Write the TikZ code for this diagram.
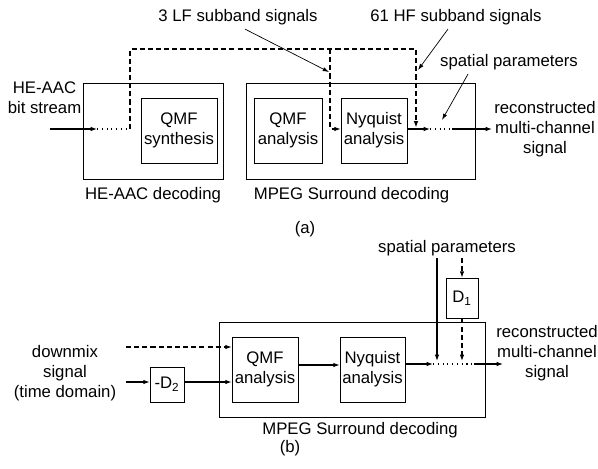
\documentclass[tikz,border=0pt]{standalone}
\usepackage{fontspec}
\setmainfont{Liberation Sans}
\usetikzlibrary{arrows.meta,positioning}

\tikzset{
  blk/.style={draw, line width=0.5pt, inner sep=0pt, align=center},
  outerbox/.style={draw, line width=0.5pt, inner sep=0pt},
  lbl/.style={align=center, inner sep=0pt},
  sig/.style={line width=0.75pt, -{Latex[length=4.5pt,width=3.2pt]}},
  dsig/.style={sig, dash pattern=on 3.6pt off 2.2pt},
  dotline/.style={line width=0.75pt, dash pattern=on 0.8pt off 2.6pt},
  ptr/.style={line width=0.5pt, -{Latex[length=4.5pt,width=3pt]}},
}

\begin{document}
\begin{tikzpicture}[x=0.025cm, y=-0.025cm, font=\fontsize{11.9pt}{14pt}\selectfont]
  \useasboundingbox (0,0) rectangle (598,468);

  % (a) HE-AAC decoding followed by MPEG Surround decoding
  \node[outerbox, minimum width=3.5cm, minimum height=2.4cm] (hebox) at (153,131) {};
  \node[blk, minimum width=1.9cm, minimum height=1.625cm] (qmfsyn) at (179,130.5) {QMF\\synthesis};
  \node[outerbox, minimum width=5.725cm, minimum height=2.4cm] (mpsa) at (360.5,131) {};
  \node[blk, minimum width=1.7cm, minimum height=1.625cm] (qmfana) at (288,130.5) {QMF\\analysis};
  \node[blk, minimum width=1.65cm, minimum height=1.625cm] (nyqa) at (374,130.5) {Nyquist\\analysis};

  \node[lbl] (hein) at (44.5,98) {HE-AAC\\bit stream};
  \node[lbl] (lfsig) at (238,17) {3 LF subband signals};
  \node[lbl] (hfsig) at (456,17) {61 HF subband signals};
  \node[lbl] (spa) at (509,62) {spatial parameters};
  \node[lbl] (rca) at (545,129) {reconstructed\\multi-channel\\signal};
  \node[lbl] (hedec) at (153,195) {HE-AAC decoding};
  \node[lbl] (mpsdeca) at (351.5,195) {MPEG Surround decoding};
  \node[lbl] (capa) at (305,229) {(a)};

  \coordinate (ina) at (50,129);
  \coordinate (dotsa) at (97,129);
  \coordinate (upa) at (130,129);
  \coordinate (topa) at (130,49);
  \coordinate (lftop) at (330,49);
  \coordinate (lfturn) at (330,129);
  \coordinate (hftop) at (416,49);
  \coordinate (hfend) at (416,127.5);
  \coordinate (outa1) at (430,129);
  \coordinate (outa2) at (452,129);
  \coordinate (outa3) at (492,129);
  \coordinate (lfarr) at (329,72);
  \coordinate (hfarr) at (418,70);
  \coordinate (spaarr) at (442,120);

  \draw[sig] (ina) -- (dotsa);
  \draw[dotline] (dotsa) -- (upa);
  \draw[dsig] (upa) -- (topa) -- (hftop) -- (hfend);
  \draw[dsig] (lftop) -- (lfturn) -- (nyqa.west |- lfturn);
  \draw[sig] (nyqa.east |- outa1) -- (outa1);
  \draw[dotline] (outa1) -- (outa2);
  \draw[sig] (outa2) -- (outa3);

  \draw[ptr] ([xshift=0.175cm,yshift=-0.1cm]lfsig.south) -- (lfarr);
  \draw[ptr] ([xshift=-0.2cm,yshift=-0.1cm]hfsig.south) -- (hfarr);
  \draw[ptr] ([xshift=-1.025cm,yshift=-0.1cm]spa.south) -- (spaarr);

  % (b) MPEG Surround decoding of a time-domain downmix
  \node[outerbox, minimum width=6.65cm, minimum height=2.375cm] (mpsb) at (352,369.5) {};
  \node[blk, minimum width=1.65cm, minimum height=1.625cm] (qmfb) at (265,369.5) {QMF\\analysis};
  \node[blk, minimum width=1.625cm, minimum height=1.625cm] (nyqb) at (372.5,369.5) {Nyquist\\analysis};
  \node[blk, minimum width=0.85cm, minimum height=0.875cm] (dtwo) at (167,384.5) {-D\textsubscript{2}};
  \node[blk, minimum width=0.8cm, minimum height=1.0cm] (done) at (462,298) {D\textsubscript{1}};

  \node[lbl] (dmx) at (65,373) {downmix\\signal\\(time domain)};
  \node[lbl] (spb) at (447,248) {spatial parameters};
  \node[lbl] (rcb) at (547,353) {reconstructed\\multi-channel\\signal};
  \node[lbl] (mpsdecb) at (360,430) {MPEG Surround decoding};
  \node[lbl] (capb) at (290,448) {(b)};

  \coordinate (dmxd) at (126,347);
  \coordinate (dmxs) at (126,382);
  \coordinate (outb0) at (300,365);
  \coordinate (outb1) at (433,364);
  \coordinate (outb2) at (474,364);
  \coordinate (outb3) at (503,364);
  \coordinate (spbs) at (437,258);
  \coordinate (spbe) at (437,361);
  \coordinate (spbd) at (462,258);
  \coordinate (donee) at (462,361);

  \draw[dsig] (dmxd) -- (qmfb.west |- dmxd);
  \draw[sig] (dmxs) -- (dtwo.west |- dmxs);
  \draw[sig] (dtwo.east |- dmxs) -- (qmfb.west |- dmxs);
  \draw[sig] (qmfb.east |- outb0) -- (nyqb.west |- outb0);
  \draw[sig] (nyqb.east |- outb1) -- (outb1);
  \draw[dotline] (outb1) -- (outb2);
  \draw[sig] (outb2) -- (outb3);
  \draw[sig] (spbs) -- (spbe);
  \draw[dsig] (spbd) -- (done.north);
  \draw[dsig] (done.south) -- (donee);
\end{tikzpicture}
\end{document}
